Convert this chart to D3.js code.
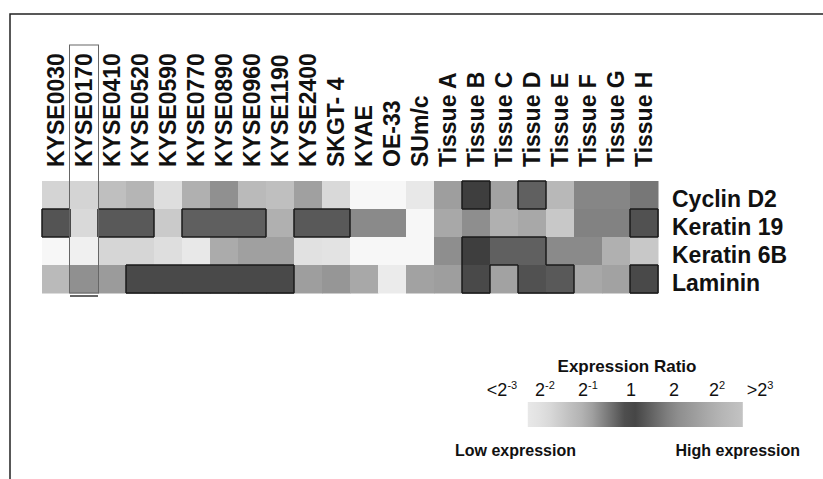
<!DOCTYPE html>
<html>
<head>
<meta charset="utf-8">
<script src="https://cdn.jsdelivr.net/npm/d3@7"></script>
<style>
  html, body { margin: 0; padding: 0; background: #fff; }
  svg { display: block; font-family: "Liberation Sans", Arial, Helvetica, sans-serif; }
</style>
</head>
<body>
<svg id="chart" width="823" height="479"></svg>
<script>
// samples (columns) and genes (rows)
const samples = ['KYSE0030', 'KYSE0170', 'KYSE0410', 'KYSE0520', 'KYSE0590', 'KYSE0770',
    'KYSE0890', 'KYSE0960', 'KYSE1190', 'KYSE2400', 'SKGT- 4', 'KYAE', 'OE-33', 'SUm/c',
    'Tissue A', 'Tissue B', 'Tissue C', 'Tissue D', 'Tissue E', 'Tissue F', 'Tissue G', 'Tissue H'];
const genes = ['Cyclin D2', 'Keratin 19', 'Keratin 6B', 'Laminin'];

// log2 expression ratio, one array per gene
const cyclinD2 = [-1.8, -1.8, -1.4, -1.2, -2.0, -1.1, -0.75, -1.3, -1.4, -0.9, -1.9, -3, -3, -2.4,
    1.5, 0, 1.6, 0.45, 2.2, 0.95, 0.95, 0.75];
const keratin19 = [-0.2, -1.9, -0.25, -0.25, -1.6, -0.3, -0.3, -0.3, -1.1, -0.25, -0.25, 1.0, 1.0, -3,
    1.75, 1.1, 1.95, 1.75, 2.75, 0.9, 0.9, 0.25];
const keratin6B = [-3, -2.7, -1.85, -1.85, -2.0, -2.4, -1.0, -0.9, -0.9, -2.1, -2.2, -3, -3, -3,
    1.1, 0, 0.45, 0.45, 1.0, 1.0, 1.95, 2.75];
const laminin = [-1.3, -0.75, -0.85, -0.1, -0.1, -0.1, -0.1, -0.1, -0.1, 1.5, 1.3, 1.75, -2.5, 1.6,
    1.5, 0.15, 1.6, 0.25, 0.35, 1.75, 1.6, 0.15];

const highlighted = 'KYSE0170';

// legend
const legendTicks = [-3, -2, -1, 0, 1, 2, 3];
const legendRange = [-2.4, 2.6];

const rowsData = [cyclinD2, keratin19, keratin6B, laminin];
const cells = [];
genes.forEach((g, i) => {
    rowsData[i].forEach((v, j) => cells.push({ gene: g, sample: samples[j], row: i, col: j, value: v }));
});

const svg = d3.select('#chart');

const x = d3.scaleBand().domain(samples).range([42, 658]);
const y = d3.scaleBand().domain(genes).range([181, 293]);

const color = d3.scaleLinear()
    .domain([-3, -2, -1, 0, 1, 2, 3])
    .range(['#f7f7f7', '#dedede', '#ababab', '#3e3e3e', '#8a8a8a', '#b2b2b2', '#cfcfcf'])
    .clamp(true);

// frame
svg.append('path')
    .attr('d', 'M10,479V14H823')
    .attr('fill', 'none')
    .attr('stroke', '#222')
    .attr('stroke-width', 1.5);

// cells
svg.append('g')
    .selectAll('rect')
    .data(cells)
    .enter()
    .append('rect')
    .attr('x', d => x(d.sample))
    .attr('y', d => y(d.gene))
    .attr('width', x.bandwidth() + 0.5)
    .attr('height', y.bandwidth() + 0.5)
    .attr('fill', d => color(d.value));

// dark borders round the darkest blocks
const isDark = (r, c) => r >= 0 && r < genes.length && c >= 0 && c < samples.length
    && d3.rgb(color(rowsData[r][c])).r < 100;
const edges = [];
cells.forEach(d => {
    if (!isDark(d.row, d.col)) return;
    const x0 = x(d.sample), x1 = x0 + x.bandwidth();
    const y0 = y(d.gene), y1 = y0 + y.bandwidth();
    if (!isDark(d.row - 1, d.col)) edges.push([x0, y0, x1, y0]);
    if (!isDark(d.row + 1, d.col)) edges.push([x0, y1, x1, y1]);
    if (!isDark(d.row, d.col - 1)) edges.push([x0, y0, x0, y1]);
    if (!isDark(d.row, d.col + 1)) edges.push([x1, y0, x1, y1]);
});
svg.append('g')
    .attr('stroke', '#1a1a1a')
    .attr('stroke-width', 1.5)
    .selectAll('line')
    .data(edges)
    .enter()
    .append('line')
    .attr('x1', d => d[0]).attr('y1', d => d[1])
    .attr('x2', d => d[2]).attr('y2', d => d[3]);

// column labels
svg.append('g')
    .selectAll('text')
    .data(samples)
    .enter()
    .append('text')
    .attr('transform', d => `translate(${x(d) + x.bandwidth() / 2},167) rotate(-90)`)
    .attr('dy', '0.36em')
    .attr('font-size', 23)
    .attr('font-weight', 'bold')
    .attr('fill', '#111')
    .text(d => d);

// row labels
svg.append('g')
    .selectAll('text')
    .data(genes)
    .enter()
    .append('text')
    .attr('x', 672)
    .attr('y', d => y(d) + y.bandwidth() / 2 + 12)
    .attr('font-size', 23)
    .attr('font-weight', 'bold')
    .attr('fill', '#111')
    .text(d => d);

// box round the highlighted sample
svg.append('rect')
    .attr('x', x(highlighted) - 0.5)
    .attr('y', 45)
    .attr('width', x.bandwidth() + 1)
    .attr('height', 248)
    .attr('fill', 'none')
    .attr('stroke', '#666')
    .attr('stroke-width', 1);
svg.append('line')
    .attr('x1', x(highlighted)).attr('x2', x(highlighted) + x.bandwidth())
    .attr('y1', 296).attr('y2', 296)
    .attr('stroke', '#333')
    .attr('stroke-width', 1.5);

// legend
const lx = d3.scaleLinear().domain([-3, 3]).range([502, 760]);

svg.append('text')
    .attr('x', lx(0) - 4)
    .attr('y', 372)
    .attr('text-anchor', 'middle')
    .attr('font-size', 17)
    .attr('font-weight', 'bold')
    .attr('fill', '#111')
    .text('Expression Ratio');

const tickLabel = svg.append('g')
    .selectAll('text')
    .data(legendTicks)
    .enter()
    .append('text')
    .attr('x', d => lx(d))
    .attr('y', 396)
    .attr('text-anchor', 'middle')
    .attr('font-size', 18)
    .attr('fill', '#111');
tickLabel.each(function (d) {
    const t = d3.select(this);
    if (d === 0) { t.text('1'); return; }
    if (d === 1) { t.text('2'); return; }
    const prefix = d === -3 ? '<' : d === 3 ? '>' : '';
    const exp = d === -3 ? '-3' : d === 3 ? '3' : String(d);
    t.append('tspan').text(prefix + '2');
    t.append('tspan').attr('dy', -7).attr('font-size', 11).text(exp);
});

const defs = svg.append('defs');
const grad = defs.append('linearGradient').attr('id', 'legend-grad');
d3.range(0, 1.0001, 0.05).forEach(t => {
    const v = legendRange[0] + t * (legendRange[1] - legendRange[0]);
    grad.append('stop').attr('offset', t).attr('stop-color', color(v));
});
svg.append('rect')
    .attr('x', lx(legendRange[0]))
    .attr('y', 402)
    .attr('width', lx(legendRange[1]) - lx(legendRange[0]))
    .attr('height', 25)
    .attr('fill', 'url(#legend-grad)');

svg.append('text')
    .attr('x', 455)
    .attr('y', 456)
    .attr('font-size', 16)
    .attr('font-weight', 'bold')
    .attr('fill', '#111')
    .text('Low expression');
svg.append('text')
    .attr('x', 800)
    .attr('y', 456)
    .attr('text-anchor', 'end')
    .attr('font-size', 16)
    .attr('font-weight', 'bold')
    .attr('fill', '#111')
    .text('High expression');
</script>
</body>
</html>
